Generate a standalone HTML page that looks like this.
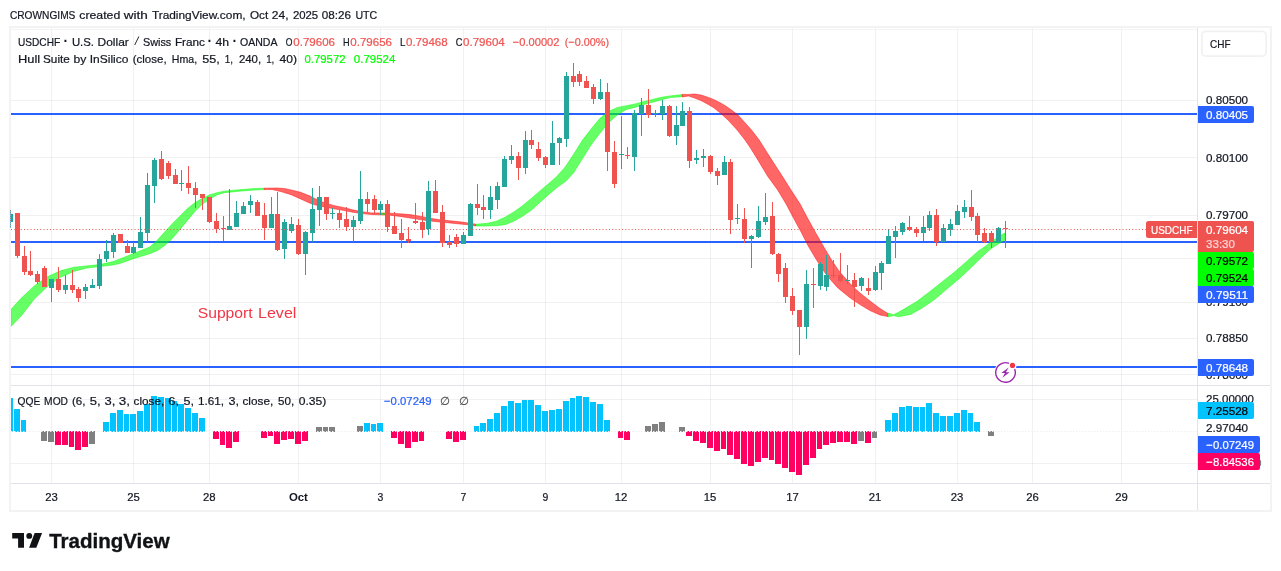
<!DOCTYPE html>
<html lang="en"><head><meta charset="utf-8"><title>USDCHF 4h chart</title>
<style>html,body{margin:0;padding:0;background:#fff;overflow:hidden}svg{display:block;font-family:'Liberation Sans', 'DejaVu Sans', sans-serif}#w{will-change:transform;width:1281px;height:571px}</style></head><body><div id="w">
<svg width="1281" height="571" viewBox="0 0 1281 571">
<rect width="1281" height="571" fill="#ffffff"/>
<text x="9.90" y="18.70" font-size="11.8" fill="#131722" textLength="65.50" lengthAdjust="spacingAndGlyphs" stroke="#131722" stroke-width="0.22">CROWNGIMS</text>
<text x="79.30" y="18.70" font-size="11.8" fill="#131722" textLength="41.00" lengthAdjust="spacingAndGlyphs" stroke="#131722" stroke-width="0.22">created</text>
<text x="123.80" y="18.70" font-size="11.8" fill="#131722" textLength="24.10" lengthAdjust="spacingAndGlyphs" stroke="#131722" stroke-width="0.22">with</text>
<text x="151.90" y="18.70" font-size="11.8" fill="#131722" textLength="93.70" lengthAdjust="spacingAndGlyphs" stroke="#131722" stroke-width="0.22">TradingView.com,</text>
<text x="250.00" y="18.70" font-size="11.8" fill="#131722" textLength="18.20" lengthAdjust="spacingAndGlyphs" stroke="#131722" stroke-width="0.22">Oct</text>
<text x="271.80" y="18.70" font-size="11.8" fill="#131722" textLength="16.70" lengthAdjust="spacingAndGlyphs" stroke="#131722" stroke-width="0.22">24,</text>
<text x="292.90" y="18.70" font-size="11.8" fill="#131722" textLength="25.30" lengthAdjust="spacingAndGlyphs" stroke="#131722" stroke-width="0.22">2025</text>
<text x="321.80" y="18.70" font-size="11.8" fill="#131722" textLength="29.20" lengthAdjust="spacingAndGlyphs" stroke="#131722" stroke-width="0.22">08:26</text>
<text x="355.40" y="18.70" font-size="11.8" fill="#131722" textLength="21.80" lengthAdjust="spacingAndGlyphs" stroke="#131722" stroke-width="0.22">UTC</text>
<g shape-rendering="crispEdges">
<rect x="51" y="28" width="1" height="455" fill="#000" fill-opacity="0.055"/>
<rect x="133" y="28" width="1" height="455" fill="#000" fill-opacity="0.055"/>
<rect x="209" y="28" width="1" height="455" fill="#000" fill-opacity="0.055"/>
<rect x="298" y="28" width="1" height="455" fill="#000" fill-opacity="0.055"/>
<rect x="380" y="28" width="1" height="455" fill="#000" fill-opacity="0.055"/>
<rect x="463" y="28" width="1" height="455" fill="#000" fill-opacity="0.055"/>
<rect x="545" y="28" width="1" height="455" fill="#000" fill-opacity="0.055"/>
<rect x="621" y="28" width="1" height="455" fill="#000" fill-opacity="0.055"/>
<rect x="710" y="28" width="1" height="455" fill="#000" fill-opacity="0.055"/>
<rect x="792" y="28" width="1" height="455" fill="#000" fill-opacity="0.055"/>
<rect x="875" y="28" width="1" height="455" fill="#000" fill-opacity="0.055"/>
<rect x="957" y="28" width="1" height="455" fill="#000" fill-opacity="0.055"/>
<rect x="1032" y="28" width="1" height="455" fill="#000" fill-opacity="0.055"/>
<rect x="1121" y="28" width="1" height="455" fill="#000" fill-opacity="0.055"/>
<rect x="11" y="100" width="1186" height="1" fill="#000" fill-opacity="0.055"/>
<rect x="11" y="157" width="1186" height="1" fill="#000" fill-opacity="0.055"/>
<rect x="11" y="215" width="1186" height="1" fill="#000" fill-opacity="0.055"/>
<rect x="11" y="258" width="1186" height="1" fill="#000" fill-opacity="0.055"/>
<rect x="11" y="302" width="1186" height="1" fill="#000" fill-opacity="0.055"/>
<rect x="11" y="338" width="1186" height="1" fill="#000" fill-opacity="0.055"/>
<rect x="11" y="374" width="1186" height="1" fill="#000" fill-opacity="0.055"/>
<rect x="11" y="399" width="1186" height="1" fill="#000" fill-opacity="0.055"/>
<rect x="11" y="463" width="1186" height="1" fill="#000" fill-opacity="0.055"/>
<rect x="9" y="26" width="1263" height="2" fill="#f3f3f3"/>
<rect x="9" y="510" width="1263" height="2" fill="#f3f3f3"/>
<rect x="9" y="26" width="2" height="486" fill="#f3f3f3"/>
<rect x="1270" y="26" width="2" height="486" fill="#f3f3f3"/>
<rect x="11" y="29" width="1186" height="1" fill="#f4f4f4"/>
<rect x="1197" y="28" width="1" height="482" fill="#e0e3eb"/>
<rect x="11" y="483" width="1259" height="1" fill="#e0e3eb"/>
<rect x="11" y="385" width="1259" height="1" fill="#e0e3eb"/>
</g>
<g shape-rendering="crispEdges">
<rect x="11" y="113" width="1186" height="2" fill="#2962ff"/>
<rect x="11" y="241" width="1186" height="2" fill="#2962ff"/>
<rect x="11" y="366" width="1186" height="2" fill="#2962ff"/>
</g>
<g fill-opacity="0.6" stroke-opacity="0.45" stroke-width="1">
<polygon points="10.9,309.5 21.1,298.3 34.3,285.9 47.4,276.7 60.5,270.8 73.7,267.2 86.8,265.9 100.0,264.5 113.1,261.6 120.0,258.9 134.9,252.9 149.8,247.0 157.2,240.3 164.7,232.1 172.1,223.9 179.5,216.5 187.0,209.0 194.4,203.1 201.9,198.6 209.3,194.9 216.8,192.7 224.2,191.2 239.1,189.7 254.0,188.6 264.1,188.2 264.1,189.6 254.0,190.1 239.1,191.2 224.2,192.7 216.8,194.9 209.3,199.4 201.9,204.6 194.4,212.0 187.0,220.9 179.5,229.9 172.1,238.8 164.7,245.5 157.2,250.7 149.8,253.7 134.9,258.2 120.0,263.4 113.1,264.9 100.0,266.6 86.8,268.1 73.7,271.4 60.5,277.3 47.4,286.5 34.3,299.0 21.1,316.1 10.9,326.6" fill="rgb(0,255,0)" stroke="rgb(0,255,0)"/>
<polygon points="264.1,188.2 276.9,188.0 284.5,188.5 291.1,189.9 300.6,192.3 310.0,196.1 314.7,198.4 324.2,202.7 333.7,205.5 343.1,207.4 352.6,209.8 362.0,211.7 371.5,212.9 380.0,212.9 390.0,213.2 400.0,213.8 410.0,214.6 420.0,216.2 430.0,218.2 440.0,219.8 450.0,220.8 460.0,221.8 470.0,223.2 476.0,224.2 476.0,226.0 470.0,225.0 460.0,224.0 450.0,223.0 440.0,222.0 430.0,221.0 420.0,219.6 410.0,218.0 400.0,216.4 390.0,215.2 380.0,214.8 371.5,214.5 362.0,213.6 352.6,212.2 343.1,210.3 333.7,208.8 324.2,206.9 314.7,204.8 310.0,203.2 300.6,198.9 291.1,194.7 281.6,191.8 272.2,189.5 264.1,189.6" fill="rgb(255,0,0)" stroke="rgb(255,0,0)"/>
<polygon points="476.0,224.2 487.5,223.3 496.3,221.2 505.0,217.2 513.8,212.0 522.5,205.8 531.3,198.4 540.0,190.9 548.8,183.5 556.3,176.9 565.0,167.3 573.8,154.1 582.5,140.1 591.3,128.8 600.0,118.3 608.8,111.3 617.5,107.4 626.3,105.7 635.0,103.9 643.8,101.6 652.5,99.4 661.3,97.3 670.0,95.9 682.3,94.6 682.3,96.7 670.0,97.6 661.3,99.9 652.5,102.2 643.8,104.6 635.0,107.4 626.3,109.5 617.5,114.8 608.8,122.6 600.0,133.1 591.3,144.5 582.5,158.5 573.8,172.5 566.0,181.0 557.6,187.0 548.8,194.4 540.0,202.3 531.3,210.2 522.5,216.3 513.8,221.2 505.0,224.7 496.3,225.7 487.5,226.0 476.0,226.0" fill="rgb(0,255,0)" stroke="rgb(0,255,0)"/>
<polygon points="682.2,94.4 688.5,94.4 694.7,94.0 701.0,95.0 707.0,96.9 713.5,99.4 719.7,102.5 726.0,106.2 732.2,110.6 738.5,115.6 742.5,120.0 751.5,130.0 759.2,140.0 764.2,148.0 773.1,162.0 782.2,176.0 791.0,190.0 800.1,204.0 807.5,218.0 815.5,232.5 824.4,248.0 832.5,261.5 838.7,270.5 842.9,275.5 852.3,286.0 860.0,293.0 870.0,301.0 880.0,308.5 888.0,313.5 888.0,316.6 880.0,315.0 870.0,310.6 860.0,304.6 850.0,297.8 840.0,289.7 837.2,287.2 827.7,276.6 823.0,270.0 816.9,260.5 808.5,246.5 801.1,232.0 793.5,218.0 786.1,204.0 777.7,190.0 767.5,176.0 759.1,162.0 750.5,148.0 745.0,140.0 737.2,130.0 728.0,120.0 719.7,112.5 713.5,107.5 707.0,103.8 701.0,100.6 694.7,98.1 688.5,96.0 682.2,96.9" fill="rgb(255,0,0)" stroke="rgb(255,0,0)"/>
<polygon points="888.3,313.1 893.5,314.7 898.0,312.6 904.5,308.8 916.8,301.5 929.0,292.3 941.3,282.5 953.6,272.7 965.8,262.3 978.1,251.2 985.0,246.5 990.0,242.5 995.0,239.0 1000.0,235.5 1005.0,233.0 1005.0,240.0 1000.0,243.0 995.0,246.0 990.0,249.5 985.0,254.0 980.0,258.8 971.9,266.8 959.7,278.3 947.4,288.6 935.2,299.0 922.9,307.6 910.6,314.4 898.4,316.8 893.5,315.6 888.3,316.8" fill="rgb(0,255,0)" stroke="rgb(0,255,0)"/>
<polygon points="381,212.9 385,213 385,215 381,214.8" fill="rgb(0,255,0)" stroke="none"/>
</g>
<rect x="0" y="290" width="9" height="50" fill="#ffffff"/>
<rect x="9" y="290" width="2" height="50" fill="#f3f3f3"/>
<g shape-rendering="crispEdges">
<rect x="10" y="210" width="1" height="18" fill="#62c9f2"/>
<rect x="10" y="210" width="1" height="1" fill="#8a8a8a"/>
<rect x="10" y="212" width="1" height="1" fill="#8a8a8a"/>
<rect x="10" y="214" width="1" height="1" fill="#8a8a8a"/>
<rect x="10" y="216" width="1" height="1" fill="#8a8a8a"/>
<rect x="10" y="218" width="1" height="1" fill="#8a8a8a"/>
<rect x="10" y="220" width="1" height="1" fill="#8a8a8a"/>
<rect x="10" y="222" width="1" height="1" fill="#8a8a8a"/>
<rect x="10" y="224" width="1" height="1" fill="#8a8a8a"/>
<rect x="10" y="226" width="1" height="1" fill="#8a8a8a"/>
<rect x="11" y="214" width="2" height="8" fill="#26a69a"/>
<rect x="17" y="213" width="1" height="45" fill="#ef5350"/>
<rect x="15" y="213" width="5" height="43" fill="#ef5350"/>
<rect x="24" y="246" width="1" height="29" fill="#ef5350"/>
<rect x="22" y="256" width="5" height="16" fill="#ef5350"/>
<rect x="30" y="251" width="1" height="25" fill="#ef5350"/>
<rect x="28" y="271" width="5" height="4" fill="#ef5350"/>
<rect x="37" y="271" width="1" height="13" fill="#ef5350"/>
<rect x="35" y="274" width="5" height="8" fill="#ef5350"/>
<rect x="44" y="266" width="1" height="21" fill="#ef5350"/>
<rect x="42" y="268" width="5" height="19" fill="#ef5350"/>
<rect x="51" y="279" width="1" height="23" fill="#26a69a"/>
<rect x="49" y="279" width="5" height="9" fill="#26a69a"/>
<rect x="58" y="267" width="1" height="25" fill="#ef5350"/>
<rect x="56" y="279" width="5" height="11" fill="#ef5350"/>
<rect x="65" y="275" width="1" height="19" fill="#26a69a"/>
<rect x="63" y="285" width="5" height="5" fill="#26a69a"/>
<rect x="72" y="270" width="1" height="23" fill="#ef5350"/>
<rect x="70" y="285" width="5" height="5" fill="#ef5350"/>
<rect x="78" y="287" width="1" height="15" fill="#ef5350"/>
<rect x="76" y="289" width="5" height="9" fill="#ef5350"/>
<rect x="85" y="284" width="1" height="15" fill="#26a69a"/>
<rect x="83" y="287" width="5" height="4" fill="#26a69a"/>
<rect x="92" y="279" width="1" height="9" fill="#26a69a"/>
<rect x="90" y="285" width="5" height="3" fill="#26a69a"/>
<rect x="99" y="254" width="1" height="35" fill="#26a69a"/>
<rect x="97" y="259" width="5" height="27" fill="#26a69a"/>
<rect x="106" y="240" width="1" height="22" fill="#26a69a"/>
<rect x="104" y="251" width="5" height="8" fill="#26a69a"/>
<rect x="113" y="233" width="1" height="25" fill="#26a69a"/>
<rect x="111" y="235" width="5" height="17" fill="#26a69a"/>
<rect x="120" y="234" width="1" height="9" fill="#ef5350"/>
<rect x="118" y="234" width="5" height="9" fill="#ef5350"/>
<rect x="127" y="240" width="1" height="13" fill="#ef5350"/>
<rect x="125" y="246" width="5" height="7" fill="#ef5350"/>
<rect x="133" y="242" width="1" height="12" fill="#26a69a"/>
<rect x="131" y="247" width="5" height="6" fill="#26a69a"/>
<rect x="140" y="217" width="1" height="31" fill="#26a69a"/>
<rect x="138" y="232" width="5" height="16" fill="#26a69a"/>
<rect x="147" y="173" width="1" height="69" fill="#26a69a"/>
<rect x="145" y="185" width="5" height="48" fill="#26a69a"/>
<rect x="154" y="158" width="1" height="45" fill="#26a69a"/>
<rect x="152" y="160" width="5" height="26" fill="#26a69a"/>
<rect x="161" y="151" width="1" height="29" fill="#ef5350"/>
<rect x="159" y="159" width="5" height="20" fill="#ef5350"/>
<rect x="168" y="161" width="1" height="18" fill="#ef5350"/>
<rect x="166" y="163" width="5" height="13" fill="#ef5350"/>
<rect x="175" y="169" width="1" height="15" fill="#ef5350"/>
<rect x="173" y="175" width="5" height="9" fill="#ef5350"/>
<rect x="181" y="170" width="1" height="21" fill="#26a69a"/>
<rect x="179" y="183" width="5" height="1" fill="#26a69a"/>
<rect x="188" y="166" width="1" height="28" fill="#ef5350"/>
<rect x="186" y="183" width="5" height="5" fill="#ef5350"/>
<rect x="195" y="182" width="1" height="26" fill="#ef5350"/>
<rect x="193" y="188" width="5" height="7" fill="#ef5350"/>
<rect x="202" y="194" width="1" height="16" fill="#ef5350"/>
<rect x="200" y="194" width="5" height="4" fill="#ef5350"/>
<rect x="209" y="197" width="1" height="26" fill="#ef5350"/>
<rect x="207" y="197" width="5" height="25" fill="#ef5350"/>
<rect x="216" y="213" width="1" height="20" fill="#ef5350"/>
<rect x="214" y="221" width="5" height="8" fill="#ef5350"/>
<rect x="223" y="216" width="1" height="25" fill="#ef5350"/>
<rect x="221" y="228" width="5" height="1" fill="#ef5350"/>
<rect x="229" y="189" width="1" height="41" fill="#26a69a"/>
<rect x="227" y="226" width="5" height="4" fill="#26a69a"/>
<rect x="236" y="201" width="1" height="26" fill="#26a69a"/>
<rect x="234" y="213" width="5" height="14" fill="#26a69a"/>
<rect x="243" y="202" width="1" height="12" fill="#26a69a"/>
<rect x="241" y="206" width="5" height="8" fill="#26a69a"/>
<rect x="250" y="195" width="1" height="18" fill="#26a69a"/>
<rect x="248" y="201" width="5" height="4" fill="#26a69a"/>
<rect x="257" y="200" width="1" height="16" fill="#ef5350"/>
<rect x="255" y="202" width="5" height="14" fill="#ef5350"/>
<rect x="264" y="203" width="1" height="37" fill="#ef5350"/>
<rect x="262" y="215" width="5" height="13" fill="#ef5350"/>
<rect x="271" y="197" width="1" height="31" fill="#26a69a"/>
<rect x="269" y="214" width="5" height="14" fill="#26a69a"/>
<rect x="277" y="192" width="1" height="59" fill="#ef5350"/>
<rect x="275" y="214" width="5" height="36" fill="#ef5350"/>
<rect x="284" y="219" width="1" height="40" fill="#26a69a"/>
<rect x="282" y="222" width="5" height="27" fill="#26a69a"/>
<rect x="291" y="217" width="1" height="16" fill="#26a69a"/>
<rect x="289" y="224" width="5" height="7" fill="#26a69a"/>
<rect x="298" y="219" width="1" height="36" fill="#ef5350"/>
<rect x="296" y="225" width="5" height="29" fill="#ef5350"/>
<rect x="305" y="231" width="1" height="44" fill="#26a69a"/>
<rect x="303" y="232" width="5" height="22" fill="#26a69a"/>
<rect x="312" y="188" width="1" height="54" fill="#26a69a"/>
<rect x="310" y="209" width="5" height="24" fill="#26a69a"/>
<rect x="319" y="186" width="1" height="40" fill="#26a69a"/>
<rect x="317" y="197" width="5" height="13" fill="#26a69a"/>
<rect x="326" y="197" width="1" height="23" fill="#ef5350"/>
<rect x="324" y="197" width="5" height="17" fill="#ef5350"/>
<rect x="332" y="208" width="1" height="11" fill="#26a69a"/>
<rect x="330" y="213" width="5" height="1" fill="#26a69a"/>
<rect x="339" y="210" width="1" height="18" fill="#ef5350"/>
<rect x="337" y="213" width="5" height="7" fill="#ef5350"/>
<rect x="346" y="207" width="1" height="24" fill="#ef5350"/>
<rect x="344" y="219" width="5" height="8" fill="#ef5350"/>
<rect x="353" y="216" width="1" height="26" fill="#26a69a"/>
<rect x="351" y="220" width="5" height="7" fill="#26a69a"/>
<rect x="360" y="171" width="1" height="53" fill="#26a69a"/>
<rect x="358" y="199" width="5" height="22" fill="#26a69a"/>
<rect x="367" y="192" width="1" height="20" fill="#ef5350"/>
<rect x="365" y="199" width="5" height="5" fill="#ef5350"/>
<rect x="374" y="195" width="1" height="19" fill="#ef5350"/>
<rect x="372" y="199" width="5" height="11" fill="#ef5350"/>
<rect x="380" y="201" width="1" height="14" fill="#26a69a"/>
<rect x="378" y="204" width="5" height="6" fill="#26a69a"/>
<rect x="387" y="200" width="1" height="32" fill="#ef5350"/>
<rect x="385" y="204" width="5" height="23" fill="#ef5350"/>
<rect x="394" y="212" width="1" height="22" fill="#ef5350"/>
<rect x="392" y="226" width="5" height="8" fill="#ef5350"/>
<rect x="401" y="219" width="1" height="29" fill="#ef5350"/>
<rect x="399" y="233" width="5" height="7" fill="#ef5350"/>
<rect x="408" y="227" width="1" height="16" fill="#ef5350"/>
<rect x="406" y="239" width="5" height="2" fill="#ef5350"/>
<rect x="415" y="203" width="1" height="21" fill="#ef5350"/>
<rect x="413" y="221" width="5" height="2" fill="#ef5350"/>
<rect x="422" y="212" width="1" height="26" fill="#ef5350"/>
<rect x="420" y="222" width="5" height="8" fill="#ef5350"/>
<rect x="428" y="181" width="1" height="54" fill="#26a69a"/>
<rect x="426" y="191" width="5" height="38" fill="#26a69a"/>
<rect x="435" y="180" width="1" height="33" fill="#ef5350"/>
<rect x="433" y="191" width="5" height="22" fill="#ef5350"/>
<rect x="442" y="205" width="1" height="42" fill="#ef5350"/>
<rect x="440" y="212" width="5" height="31" fill="#ef5350"/>
<rect x="449" y="235" width="1" height="13" fill="#ef5350"/>
<rect x="447" y="242" width="5" height="3" fill="#ef5350"/>
<rect x="456" y="234" width="1" height="13" fill="#ef5350"/>
<rect x="454" y="237" width="5" height="7" fill="#ef5350"/>
<rect x="463" y="232" width="1" height="12" fill="#26a69a"/>
<rect x="461" y="235" width="5" height="9" fill="#26a69a"/>
<rect x="470" y="203" width="1" height="33" fill="#26a69a"/>
<rect x="468" y="204" width="5" height="32" fill="#26a69a"/>
<rect x="477" y="184" width="1" height="31" fill="#ef5350"/>
<rect x="475" y="204" width="5" height="4" fill="#ef5350"/>
<rect x="483" y="195" width="1" height="24" fill="#ef5350"/>
<rect x="481" y="207" width="5" height="3" fill="#ef5350"/>
<rect x="490" y="186" width="1" height="33" fill="#26a69a"/>
<rect x="488" y="197" width="5" height="13" fill="#26a69a"/>
<rect x="497" y="182" width="1" height="27" fill="#26a69a"/>
<rect x="495" y="186" width="5" height="14" fill="#26a69a"/>
<rect x="504" y="156" width="1" height="31" fill="#26a69a"/>
<rect x="502" y="159" width="5" height="28" fill="#26a69a"/>
<rect x="511" y="145" width="1" height="19" fill="#26a69a"/>
<rect x="509" y="156" width="5" height="4" fill="#26a69a"/>
<rect x="518" y="152" width="1" height="28" fill="#ef5350"/>
<rect x="516" y="156" width="5" height="12" fill="#ef5350"/>
<rect x="525" y="131" width="1" height="43" fill="#26a69a"/>
<rect x="523" y="140" width="5" height="28" fill="#26a69a"/>
<rect x="531" y="130" width="1" height="19" fill="#ef5350"/>
<rect x="529" y="140" width="5" height="5" fill="#ef5350"/>
<rect x="538" y="142" width="1" height="19" fill="#ef5350"/>
<rect x="536" y="149" width="5" height="9" fill="#ef5350"/>
<rect x="545" y="156" width="1" height="12" fill="#ef5350"/>
<rect x="543" y="157" width="5" height="8" fill="#ef5350"/>
<rect x="552" y="121" width="1" height="44" fill="#26a69a"/>
<rect x="550" y="143" width="5" height="22" fill="#26a69a"/>
<rect x="559" y="137" width="1" height="28" fill="#26a69a"/>
<rect x="557" y="138" width="5" height="5" fill="#26a69a"/>
<rect x="566" y="72" width="1" height="75" fill="#26a69a"/>
<rect x="564" y="76" width="5" height="63" fill="#26a69a"/>
<rect x="573" y="63" width="1" height="24" fill="#ef5350"/>
<rect x="571" y="76" width="5" height="6" fill="#ef5350"/>
<rect x="579" y="71" width="1" height="15" fill="#ef5350"/>
<rect x="577" y="74" width="5" height="8" fill="#ef5350"/>
<rect x="586" y="76" width="1" height="12" fill="#ef5350"/>
<rect x="584" y="81" width="5" height="7" fill="#ef5350"/>
<rect x="593" y="84" width="1" height="20" fill="#ef5350"/>
<rect x="591" y="87" width="5" height="12" fill="#ef5350"/>
<rect x="600" y="79" width="1" height="21" fill="#26a69a"/>
<rect x="598" y="92" width="5" height="7" fill="#26a69a"/>
<rect x="607" y="83" width="1" height="88" fill="#ef5350"/>
<rect x="605" y="92" width="5" height="60" fill="#ef5350"/>
<rect x="614" y="141" width="1" height="47" fill="#ef5350"/>
<rect x="612" y="152" width="5" height="32" fill="#ef5350"/>
<rect x="621" y="116" width="1" height="53" fill="#26a69a"/>
<rect x="619" y="154" width="5" height="1" fill="#26a69a"/>
<rect x="627" y="147" width="1" height="12" fill="#ef5350"/>
<rect x="625" y="155" width="5" height="1" fill="#ef5350"/>
<rect x="634" y="110" width="1" height="61" fill="#26a69a"/>
<rect x="632" y="113" width="5" height="44" fill="#26a69a"/>
<rect x="641" y="98" width="1" height="38" fill="#26a69a"/>
<rect x="639" y="105" width="5" height="9" fill="#26a69a"/>
<rect x="648" y="89" width="1" height="29" fill="#ef5350"/>
<rect x="646" y="105" width="5" height="10" fill="#ef5350"/>
<rect x="655" y="110" width="1" height="7" fill="#26a69a"/>
<rect x="653" y="113" width="5" height="1" fill="#26a69a"/>
<rect x="662" y="100" width="1" height="20" fill="#26a69a"/>
<rect x="660" y="106" width="5" height="8" fill="#26a69a"/>
<rect x="669" y="105" width="1" height="32" fill="#ef5350"/>
<rect x="667" y="106" width="5" height="30" fill="#ef5350"/>
<rect x="676" y="106" width="1" height="39" fill="#26a69a"/>
<rect x="674" y="125" width="5" height="11" fill="#26a69a"/>
<rect x="682" y="102" width="1" height="24" fill="#26a69a"/>
<rect x="680" y="111" width="5" height="15" fill="#26a69a"/>
<rect x="689" y="107" width="1" height="61" fill="#ef5350"/>
<rect x="687" y="111" width="5" height="50" fill="#ef5350"/>
<rect x="696" y="150" width="1" height="14" fill="#26a69a"/>
<rect x="694" y="158" width="5" height="2" fill="#26a69a"/>
<rect x="703" y="149" width="1" height="18" fill="#26a69a"/>
<rect x="701" y="156" width="5" height="2" fill="#26a69a"/>
<rect x="710" y="155" width="1" height="19" fill="#ef5350"/>
<rect x="708" y="156" width="5" height="16" fill="#ef5350"/>
<rect x="717" y="168" width="1" height="17" fill="#ef5350"/>
<rect x="715" y="171" width="5" height="5" fill="#ef5350"/>
<rect x="724" y="156" width="1" height="19" fill="#26a69a"/>
<rect x="722" y="162" width="5" height="13" fill="#26a69a"/>
<rect x="730" y="159" width="1" height="75" fill="#ef5350"/>
<rect x="728" y="162" width="5" height="58" fill="#ef5350"/>
<rect x="737" y="204" width="1" height="20" fill="#26a69a"/>
<rect x="735" y="218" width="5" height="1" fill="#26a69a"/>
<rect x="744" y="208" width="1" height="35" fill="#ef5350"/>
<rect x="742" y="219" width="5" height="20" fill="#ef5350"/>
<rect x="751" y="235" width="1" height="33" fill="#26a69a"/>
<rect x="749" y="236" width="5" height="3" fill="#26a69a"/>
<rect x="758" y="206" width="1" height="32" fill="#26a69a"/>
<rect x="756" y="221" width="5" height="16" fill="#26a69a"/>
<rect x="765" y="193" width="1" height="32" fill="#26a69a"/>
<rect x="763" y="217" width="5" height="5" fill="#26a69a"/>
<rect x="772" y="202" width="1" height="53" fill="#ef5350"/>
<rect x="770" y="216" width="5" height="38" fill="#ef5350"/>
<rect x="778" y="253" width="1" height="29" fill="#ef5350"/>
<rect x="776" y="254" width="5" height="20" fill="#ef5350"/>
<rect x="785" y="263" width="1" height="40" fill="#ef5350"/>
<rect x="783" y="268" width="5" height="29" fill="#ef5350"/>
<rect x="792" y="288" width="1" height="27" fill="#ef5350"/>
<rect x="790" y="296" width="5" height="15" fill="#ef5350"/>
<rect x="799" y="310" width="1" height="45" fill="#ef5350"/>
<rect x="797" y="310" width="5" height="17" fill="#ef5350"/>
<rect x="806" y="270" width="1" height="69" fill="#26a69a"/>
<rect x="804" y="284" width="5" height="43" fill="#26a69a"/>
<rect x="813" y="268" width="1" height="40" fill="#ef5350"/>
<rect x="811" y="284" width="5" height="1" fill="#ef5350"/>
<rect x="820" y="262" width="1" height="28" fill="#26a69a"/>
<rect x="818" y="264" width="5" height="22" fill="#26a69a"/>
<rect x="826" y="255" width="1" height="36" fill="#26a69a"/>
<rect x="824" y="275" width="5" height="12" fill="#26a69a"/>
<rect x="833" y="260" width="1" height="18" fill="#ef5350"/>
<rect x="831" y="275" width="5" height="1" fill="#ef5350"/>
<rect x="840" y="253" width="1" height="29" fill="#ef5350"/>
<rect x="838" y="275" width="5" height="6" fill="#ef5350"/>
<rect x="847" y="265" width="1" height="19" fill="#26a69a"/>
<rect x="845" y="280" width="5" height="1" fill="#26a69a"/>
<rect x="854" y="273" width="1" height="34" fill="#ef5350"/>
<rect x="852" y="280" width="5" height="7" fill="#ef5350"/>
<rect x="861" y="277" width="1" height="14" fill="#26a69a"/>
<rect x="859" y="278" width="5" height="8" fill="#26a69a"/>
<rect x="868" y="278" width="1" height="17" fill="#ef5350"/>
<rect x="866" y="288" width="5" height="3" fill="#ef5350"/>
<rect x="875" y="266" width="1" height="25" fill="#26a69a"/>
<rect x="873" y="272" width="5" height="18" fill="#26a69a"/>
<rect x="881" y="261" width="1" height="29" fill="#26a69a"/>
<rect x="879" y="263" width="5" height="10" fill="#26a69a"/>
<rect x="888" y="229" width="1" height="35" fill="#26a69a"/>
<rect x="886" y="236" width="5" height="28" fill="#26a69a"/>
<rect x="895" y="226" width="1" height="32" fill="#26a69a"/>
<rect x="893" y="231" width="5" height="6" fill="#26a69a"/>
<rect x="902" y="222" width="1" height="13" fill="#26a69a"/>
<rect x="900" y="223" width="5" height="9" fill="#26a69a"/>
<rect x="909" y="216" width="1" height="15" fill="#ef5350"/>
<rect x="907" y="227" width="5" height="3" fill="#ef5350"/>
<rect x="916" y="227" width="1" height="10" fill="#ef5350"/>
<rect x="914" y="229" width="5" height="4" fill="#ef5350"/>
<rect x="923" y="216" width="1" height="25" fill="#26a69a"/>
<rect x="921" y="227" width="5" height="6" fill="#26a69a"/>
<rect x="929" y="211" width="1" height="20" fill="#26a69a"/>
<rect x="927" y="215" width="5" height="13" fill="#26a69a"/>
<rect x="936" y="209" width="1" height="37" fill="#ef5350"/>
<rect x="934" y="215" width="5" height="27" fill="#ef5350"/>
<rect x="943" y="224" width="1" height="18" fill="#26a69a"/>
<rect x="941" y="228" width="5" height="14" fill="#26a69a"/>
<rect x="950" y="219" width="1" height="17" fill="#26a69a"/>
<rect x="948" y="224" width="5" height="6" fill="#26a69a"/>
<rect x="957" y="205" width="1" height="20" fill="#26a69a"/>
<rect x="955" y="211" width="5" height="14" fill="#26a69a"/>
<rect x="964" y="200" width="1" height="18" fill="#26a69a"/>
<rect x="962" y="207" width="5" height="5" fill="#26a69a"/>
<rect x="971" y="190" width="1" height="31" fill="#ef5350"/>
<rect x="969" y="207" width="5" height="10" fill="#ef5350"/>
<rect x="977" y="213" width="1" height="29" fill="#ef5350"/>
<rect x="975" y="216" width="5" height="19" fill="#ef5350"/>
<rect x="984" y="228" width="1" height="15" fill="#ef5350"/>
<rect x="982" y="233" width="5" height="9" fill="#ef5350"/>
<rect x="991" y="231" width="1" height="17" fill="#ef5350"/>
<rect x="989" y="233" width="5" height="9" fill="#ef5350"/>
<rect x="998" y="227" width="1" height="15" fill="#26a69a"/>
<rect x="996" y="228" width="5" height="14" fill="#26a69a"/>
<rect x="1005" y="221" width="1" height="27" fill="#ef5350"/>
<rect x="1003" y="228" width="5" height="1" fill="#ef5350"/>
</g>
<line x1="11" y1="229.5" x2="1146" y2="229.5" stroke="#ef5350" stroke-width="1" stroke-dasharray="1 2.25"/>
<g shape-rendering="crispEdges">
<rect x="11" y="398" width="2" height="34" fill="#00c3ff"/>
<rect x="14" y="409" width="6" height="23" fill="#00c3ff"/>
<rect x="21" y="420" width="5" height="12" fill="#00c3ff"/>
<rect x="41" y="431" width="6" height="10" fill="#808080"/>
<rect x="48" y="431" width="6" height="11" fill="#808080"/>
<rect x="55" y="431" width="6" height="14" fill="#ff0062"/>
<rect x="62" y="431" width="6" height="14" fill="#ff0062"/>
<rect x="69" y="431" width="5" height="16" fill="#ff0062"/>
<rect x="75" y="431" width="6" height="19" fill="#ff0062"/>
<rect x="82" y="431" width="6" height="16" fill="#ff0062"/>
<rect x="89" y="431" width="6" height="13" fill="#808080"/>
<rect x="103" y="422" width="6" height="10" fill="#00c3ff"/>
<rect x="110" y="413" width="6" height="19" fill="#00c3ff"/>
<rect x="117" y="410" width="6" height="22" fill="#00c3ff"/>
<rect x="124" y="414" width="5" height="18" fill="#00c3ff"/>
<rect x="130" y="414" width="6" height="18" fill="#00c3ff"/>
<rect x="137" y="411" width="6" height="21" fill="#00c3ff"/>
<rect x="144" y="404" width="6" height="28" fill="#00c3ff"/>
<rect x="151" y="396" width="6" height="36" fill="#00c3ff"/>
<rect x="158" y="397" width="6" height="35" fill="#00c3ff"/>
<rect x="165" y="398" width="6" height="34" fill="#00c3ff"/>
<rect x="172" y="401" width="5" height="31" fill="#00c3ff"/>
<rect x="178" y="404" width="6" height="28" fill="#00c3ff"/>
<rect x="185" y="408" width="6" height="24" fill="#00c3ff"/>
<rect x="192" y="413" width="6" height="19" fill="#00c3ff"/>
<rect x="199" y="418" width="6" height="14" fill="#00c3ff"/>
<rect x="213" y="431" width="6" height="8" fill="#ff0062"/>
<rect x="220" y="431" width="5" height="14" fill="#ff0062"/>
<rect x="226" y="431" width="6" height="17" fill="#ff0062"/>
<rect x="233" y="431" width="6" height="11" fill="#ff0062"/>
<rect x="261" y="431" width="6" height="7" fill="#ff0062"/>
<rect x="268" y="431" width="5" height="5" fill="#ff0062"/>
<rect x="274" y="431" width="6" height="13" fill="#ff0062"/>
<rect x="281" y="431" width="6" height="9" fill="#ff0062"/>
<rect x="288" y="431" width="6" height="8" fill="#ff0062"/>
<rect x="295" y="431" width="6" height="13" fill="#ff0062"/>
<rect x="302" y="431" width="6" height="10" fill="#ff0062"/>
<rect x="316" y="427" width="6" height="5" fill="#808080"/>
<rect x="323" y="427" width="5" height="5" fill="#808080"/>
<rect x="329" y="427" width="6" height="5" fill="#808080"/>
<rect x="357" y="426" width="6" height="6" fill="#808080"/>
<rect x="364" y="423" width="6" height="9" fill="#00c3ff"/>
<rect x="371" y="424" width="5" height="8" fill="#00c3ff"/>
<rect x="377" y="423" width="6" height="9" fill="#00c3ff"/>
<rect x="391" y="431" width="6" height="7" fill="#ff0062"/>
<rect x="398" y="431" width="6" height="13" fill="#ff0062"/>
<rect x="405" y="431" width="6" height="17" fill="#ff0062"/>
<rect x="412" y="431" width="6" height="11" fill="#ff0062"/>
<rect x="419" y="431" width="5" height="10" fill="#ff0062"/>
<rect x="446" y="431" width="6" height="8" fill="#ff0062"/>
<rect x="453" y="431" width="6" height="11" fill="#ff0062"/>
<rect x="460" y="431" width="6" height="9" fill="#ff0062"/>
<rect x="474" y="426" width="5" height="6" fill="#00c3ff"/>
<rect x="480" y="423" width="6" height="9" fill="#00c3ff"/>
<rect x="487" y="419" width="6" height="13" fill="#00c3ff"/>
<rect x="494" y="413" width="6" height="19" fill="#00c3ff"/>
<rect x="501" y="406" width="6" height="26" fill="#00c3ff"/>
<rect x="508" y="401" width="6" height="31" fill="#00c3ff"/>
<rect x="515" y="403" width="6" height="29" fill="#00c3ff"/>
<rect x="522" y="400" width="5" height="32" fill="#00c3ff"/>
<rect x="528" y="400" width="6" height="32" fill="#00c3ff"/>
<rect x="535" y="405" width="6" height="27" fill="#00c3ff"/>
<rect x="542" y="411" width="6" height="21" fill="#00c3ff"/>
<rect x="549" y="410" width="6" height="22" fill="#00c3ff"/>
<rect x="556" y="409" width="6" height="23" fill="#00c3ff"/>
<rect x="563" y="401" width="6" height="31" fill="#00c3ff"/>
<rect x="570" y="398" width="5" height="34" fill="#00c3ff"/>
<rect x="576" y="396" width="6" height="36" fill="#00c3ff"/>
<rect x="583" y="397" width="6" height="35" fill="#00c3ff"/>
<rect x="590" y="402" width="6" height="30" fill="#00c3ff"/>
<rect x="597" y="404" width="6" height="28" fill="#00c3ff"/>
<rect x="604" y="420" width="6" height="12" fill="#00c3ff"/>
<rect x="618" y="431" width="5" height="7" fill="#ff0062"/>
<rect x="624" y="431" width="6" height="9" fill="#ff0062"/>
<rect x="645" y="426" width="6" height="6" fill="#808080"/>
<rect x="652" y="424" width="6" height="8" fill="#808080"/>
<rect x="659" y="422" width="6" height="10" fill="#808080"/>
<rect x="679" y="427" width="6" height="5" fill="#808080"/>
<rect x="686" y="431" width="6" height="5" fill="#ff0062"/>
<rect x="693" y="431" width="6" height="10" fill="#ff0062"/>
<rect x="700" y="431" width="6" height="12" fill="#ff0062"/>
<rect x="707" y="431" width="6" height="17" fill="#ff0062"/>
<rect x="714" y="431" width="6" height="20" fill="#ff0062"/>
<rect x="721" y="431" width="5" height="18" fill="#ff0062"/>
<rect x="727" y="431" width="6" height="24" fill="#ff0062"/>
<rect x="734" y="431" width="6" height="28" fill="#ff0062"/>
<rect x="741" y="431" width="6" height="33" fill="#ff0062"/>
<rect x="748" y="431" width="6" height="35" fill="#ff0062"/>
<rect x="755" y="431" width="6" height="31" fill="#ff0062"/>
<rect x="762" y="431" width="6" height="27" fill="#ff0062"/>
<rect x="769" y="431" width="5" height="29" fill="#ff0062"/>
<rect x="775" y="431" width="6" height="33" fill="#ff0062"/>
<rect x="782" y="431" width="6" height="37" fill="#ff0062"/>
<rect x="789" y="431" width="6" height="41" fill="#ff0062"/>
<rect x="796" y="431" width="6" height="44" fill="#ff0062"/>
<rect x="803" y="431" width="6" height="34" fill="#ff0062"/>
<rect x="810" y="431" width="6" height="27" fill="#ff0062"/>
<rect x="817" y="431" width="5" height="18" fill="#ff0062"/>
<rect x="823" y="431" width="6" height="14" fill="#ff0062"/>
<rect x="830" y="431" width="6" height="12" fill="#ff0062"/>
<rect x="837" y="431" width="6" height="11" fill="#ff0062"/>
<rect x="844" y="431" width="6" height="11" fill="#ff0062"/>
<rect x="851" y="431" width="6" height="13" fill="#ff0062"/>
<rect x="858" y="431" width="6" height="10" fill="#808080"/>
<rect x="865" y="431" width="6" height="12" fill="#ff0062"/>
<rect x="872" y="431" width="5" height="7" fill="#808080"/>
<rect x="885" y="420" width="6" height="12" fill="#00c3ff"/>
<rect x="892" y="413" width="6" height="19" fill="#00c3ff"/>
<rect x="899" y="407" width="6" height="25" fill="#00c3ff"/>
<rect x="906" y="406" width="6" height="26" fill="#00c3ff"/>
<rect x="913" y="407" width="6" height="25" fill="#00c3ff"/>
<rect x="920" y="407" width="5" height="25" fill="#00c3ff"/>
<rect x="926" y="403" width="6" height="29" fill="#00c3ff"/>
<rect x="933" y="413" width="6" height="19" fill="#00c3ff"/>
<rect x="940" y="416" width="6" height="16" fill="#00c3ff"/>
<rect x="947" y="416" width="6" height="16" fill="#00c3ff"/>
<rect x="954" y="413" width="6" height="19" fill="#00c3ff"/>
<rect x="961" y="410" width="6" height="22" fill="#00c3ff"/>
<rect x="968" y="413" width="5" height="19" fill="#00c3ff"/>
<rect x="974" y="422" width="6" height="10" fill="#00c3ff"/>
<rect x="988" y="431" width="6" height="5" fill="#808080"/>
</g>
<line x1="11" y1="431.5" x2="1197" y2="431.5" stroke="#f0f0f0" stroke-width="1" stroke-dasharray="1.5 1.5"/>
<text x="18.00" y="45.50" font-size="11.8" fill="#131722" textLength="42.10" lengthAdjust="spacingAndGlyphs" stroke="#131722" stroke-width="0.22">USDCHF</text>
<text x="65.80" y="46.30" font-size="13.8" fill="#131722" text-anchor="middle" font-weight="bold">·</text>
<text x="71.90" y="45.50" font-size="11.8" fill="#131722" textLength="22.10" lengthAdjust="spacingAndGlyphs" stroke="#131722" stroke-width="0.22">U.S.</text>
<text x="97.60" y="45.50" font-size="11.8" fill="#131722" textLength="31.20" lengthAdjust="spacingAndGlyphs" stroke="#131722" stroke-width="0.22">Dollar</text>
<text x="136.85" y="45.50" font-size="11.8" fill="#131722" text-anchor="middle" transform="translate(136.85 41.50) skewX(-12) translate(-136.85 -41.50)">/</text>
<text x="142.90" y="45.50" font-size="11.8" fill="#131722" textLength="28.40" lengthAdjust="spacingAndGlyphs" stroke="#131722" stroke-width="0.22">Swiss</text>
<text x="174.90" y="45.50" font-size="11.8" fill="#131722" textLength="30.10" lengthAdjust="spacingAndGlyphs" stroke="#131722" stroke-width="0.22">Franc</text>
<text x="209.90" y="46.30" font-size="13.8" fill="#131722" text-anchor="middle" font-weight="bold">·</text>
<text x="215.50" y="45.50" font-size="11.8" fill="#131722" textLength="13.60" lengthAdjust="spacingAndGlyphs" stroke="#131722" stroke-width="0.22">4h</text>
<text x="234.80" y="46.30" font-size="13.8" fill="#131722" text-anchor="middle" font-weight="bold">·</text>
<text x="240.00" y="45.50" font-size="11.8" fill="#131722" textLength="37.50" lengthAdjust="spacingAndGlyphs" stroke="#131722" stroke-width="0.22">OANDA</text>
<text x="285.80" y="45.50" font-size="11.8" fill="#131722" textLength="6.70" lengthAdjust="spacingAndGlyphs" stroke="#131722" stroke-width="0.22">O</text>
<text x="293.30" y="45.50" font-size="11.8" fill="#ef5350" textLength="41.70" lengthAdjust="spacingAndGlyphs" stroke="#ef5350" stroke-width="0.22">0.79606</text>
<text x="343.00" y="45.50" font-size="11.8" fill="#131722" textLength="6.60" lengthAdjust="spacingAndGlyphs" stroke="#131722" stroke-width="0.22">H</text>
<text x="350.30" y="45.50" font-size="11.8" fill="#ef5350" textLength="41.70" lengthAdjust="spacingAndGlyphs" stroke="#ef5350" stroke-width="0.22">0.79656</text>
<text x="400.00" y="45.50" font-size="11.8" fill="#131722" textLength="5.40" lengthAdjust="spacingAndGlyphs" stroke="#131722" stroke-width="0.22">L</text>
<text x="406.00" y="45.50" font-size="11.8" fill="#ef5350" textLength="41.70" lengthAdjust="spacingAndGlyphs" stroke="#ef5350" stroke-width="0.22">0.79468</text>
<text x="455.70" y="45.50" font-size="11.8" fill="#131722" textLength="6.70" lengthAdjust="spacingAndGlyphs" stroke="#131722" stroke-width="0.22">C</text>
<text x="463.00" y="45.50" font-size="11.8" fill="#ef5350" textLength="41.80" lengthAdjust="spacingAndGlyphs" stroke="#ef5350" stroke-width="0.22">0.79604</text>
<text x="512.70" y="45.50" font-size="11.8" fill="#ef5350" textLength="46.80" lengthAdjust="spacingAndGlyphs" stroke="#ef5350" stroke-width="0.22">−0.00002</text>
<text x="564.80" y="45.50" font-size="11.8" fill="#ef5350" textLength="44.20" lengthAdjust="spacingAndGlyphs" stroke="#ef5350" stroke-width="0.22">(−0.00%)</text>
<text x="18.00" y="62.50" font-size="11.8" fill="#131722" textLength="22.20" lengthAdjust="spacingAndGlyphs" stroke="#131722" stroke-width="0.22">Hull</text>
<text x="43.00" y="62.50" font-size="11.8" fill="#131722" textLength="26.80" lengthAdjust="spacingAndGlyphs" stroke="#131722" stroke-width="0.22">Suite</text>
<text x="73.40" y="62.50" font-size="11.8" fill="#131722" textLength="12.80" lengthAdjust="spacingAndGlyphs" stroke="#131722" stroke-width="0.22">by</text>
<text x="89.80" y="62.50" font-size="11.8" fill="#131722" textLength="38.60" lengthAdjust="spacingAndGlyphs" stroke="#131722" stroke-width="0.22">InSilico</text>
<text x="132.70" y="62.50" font-size="11.8" fill="#131722" textLength="33.90" lengthAdjust="spacingAndGlyphs" stroke="#131722" stroke-width="0.22">(close,</text>
<text x="171.80" y="62.50" font-size="11.8" fill="#131722" textLength="25.30" lengthAdjust="spacingAndGlyphs" stroke="#131722" stroke-width="0.22">Hma,</text>
<text x="202.20" y="62.50" font-size="11.8" fill="#131722" textLength="17.50" lengthAdjust="spacingAndGlyphs" stroke="#131722" stroke-width="0.22">55,</text>
<text x="224.80" y="62.50" font-size="11.8" fill="#131722" textLength="8.20" lengthAdjust="spacingAndGlyphs" stroke="#131722" stroke-width="0.22">1,</text>
<text x="238.90" y="62.50" font-size="11.8" fill="#131722" textLength="22.20" lengthAdjust="spacingAndGlyphs" stroke="#131722" stroke-width="0.22">240,</text>
<text x="266.20" y="62.50" font-size="11.8" fill="#131722" textLength="8.10" lengthAdjust="spacingAndGlyphs" stroke="#131722" stroke-width="0.22">1,</text>
<text x="279.50" y="62.50" font-size="11.8" fill="#131722" textLength="17.50" lengthAdjust="spacingAndGlyphs" stroke="#131722" stroke-width="0.22">40)</text>
<text x="304.40" y="62.50" font-size="11.8" fill="#00ff00" textLength="41.20" lengthAdjust="spacingAndGlyphs" stroke="#00ff00" stroke-width="0.22">0.79572</text>
<text x="353.80" y="62.50" font-size="11.8" fill="#00ff00" textLength="41.60" lengthAdjust="spacingAndGlyphs" stroke="#00ff00" stroke-width="0.22">0.79524</text>
<text x="17.50" y="405.00" font-size="11.8" fill="#131722" textLength="22.70" lengthAdjust="spacingAndGlyphs" stroke="#131722" stroke-width="0.22">QQE</text>
<text x="44.10" y="405.00" font-size="11.8" fill="#131722" textLength="23.90" lengthAdjust="spacingAndGlyphs" stroke="#131722" stroke-width="0.22">MOD</text>
<text x="71.90" y="405.00" font-size="11.8" fill="#131722" textLength="13.50" lengthAdjust="spacingAndGlyphs" stroke="#131722" stroke-width="0.22">(6,</text>
<text x="89.80" y="405.00" font-size="11.8" fill="#131722" textLength="10.90" lengthAdjust="spacingAndGlyphs" stroke="#131722" stroke-width="0.22">5,</text>
<text x="104.60" y="405.00" font-size="11.8" fill="#131722" textLength="10.80" lengthAdjust="spacingAndGlyphs" stroke="#131722" stroke-width="0.22">3,</text>
<text x="118.70" y="405.00" font-size="11.8" fill="#131722" textLength="11.20" lengthAdjust="spacingAndGlyphs" stroke="#131722" stroke-width="0.22">3,</text>
<text x="133.50" y="405.00" font-size="11.8" fill="#131722" textLength="30.80" lengthAdjust="spacingAndGlyphs" stroke="#131722" stroke-width="0.22">close,</text>
<text x="168.30" y="405.00" font-size="11.8" fill="#131722" textLength="10.80" lengthAdjust="spacingAndGlyphs" stroke="#131722" stroke-width="0.22">6,</text>
<text x="183.50" y="405.00" font-size="11.8" fill="#131722" textLength="10.50" lengthAdjust="spacingAndGlyphs" stroke="#131722" stroke-width="0.22">5,</text>
<text x="198.00" y="405.00" font-size="11.8" fill="#131722" textLength="26.10" lengthAdjust="spacingAndGlyphs" stroke="#131722" stroke-width="0.22">1.61,</text>
<text x="228.40" y="405.00" font-size="11.8" fill="#131722" textLength="10.50" lengthAdjust="spacingAndGlyphs" stroke="#131722" stroke-width="0.22">3,</text>
<text x="242.50" y="405.00" font-size="11.8" fill="#131722" textLength="30.70" lengthAdjust="spacingAndGlyphs" stroke="#131722" stroke-width="0.22">close,</text>
<text x="278.10" y="405.00" font-size="11.8" fill="#131722" textLength="16.20" lengthAdjust="spacingAndGlyphs" stroke="#131722" stroke-width="0.22">50,</text>
<text x="298.70" y="405.00" font-size="11.8" fill="#131722" textLength="27.60" lengthAdjust="spacingAndGlyphs" stroke="#131722" stroke-width="0.22">0.35)</text>
<text x="384.00" y="405.00" font-size="11.8" fill="#2962ff" textLength="47.60" lengthAdjust="spacingAndGlyphs" stroke="#2962ff" stroke-width="0.22">−0.07249</text>
<text x="440.00" y="405.00" font-size="11.8" fill="#4a4a4a" textLength="9.60" lengthAdjust="spacingAndGlyphs" stroke="#4a4a4a" stroke-width="0.22">∅</text>
<text x="459.00" y="405.00" font-size="11.8" fill="#4a4a4a" textLength="9.60" lengthAdjust="spacingAndGlyphs" stroke="#4a4a4a" stroke-width="0.22">∅</text>
<text x="197.7" y="317.9" font-size="15" fill="#f23645" textLength="55.0" lengthAdjust="spacingAndGlyphs">Support</text>
<text x="258.0" y="317.9" font-size="15" fill="#f23645" textLength="38.4" lengthAdjust="spacingAndGlyphs">Level</text>
<circle cx="1005.5" cy="372.5" r="11.2" fill="#ffffff"/><circle cx="1012.5" cy="365.4" r="4" fill="#ffffff"/>
<path d="M1014.82 369.47A9.8 9.8 0 1 1 1008.46 363.16" fill="none" stroke="#9c27b0" stroke-width="1.4" stroke-linecap="round"/>
<path d="M1008.6 367.4L1001.3 372.9L1005.0 372.9L1002.4 377.8L1009.6 372.2L1005.9 372.2Z" fill="#9c27b0"/>
<circle cx="1012.5" cy="365.4" r="2.6" fill="#f23645"/>
<rect x="1201.85" y="31.35" width="64.3" height="24.8" rx="4" ry="4" fill="#fff" stroke="#f1f1f1" stroke-width="1.7"/>
<text x="1210.00" y="47.80" font-size="11.8" fill="#131722" textLength="20.50" lengthAdjust="spacingAndGlyphs" stroke="#131722" stroke-width="0.22">CHF</text>
<text x="1206.00" y="103.70" font-size="11.8" fill="#131722" textLength="42.10" lengthAdjust="spacingAndGlyphs" stroke="#131722" stroke-width="0.22">0.80500</text>
<text x="1206.00" y="161.50" font-size="11.8" fill="#131722" textLength="42.10" lengthAdjust="spacingAndGlyphs" stroke="#131722" stroke-width="0.22">0.80100</text>
<text x="1206.00" y="219.10" font-size="11.8" fill="#131722" textLength="42.10" lengthAdjust="spacingAndGlyphs" stroke="#131722" stroke-width="0.22">0.79700</text>
<text x="1206.00" y="306.00" font-size="11.8" fill="#131722" textLength="42.10" lengthAdjust="spacingAndGlyphs" stroke="#131722" stroke-width="0.22">0.79100</text>
<text x="1206.00" y="342.00" font-size="11.8" fill="#131722" textLength="42.10" lengthAdjust="spacingAndGlyphs" stroke="#131722" stroke-width="0.22">0.78850</text>
<text x="1206.00" y="378.50" font-size="11.8" fill="#131722" textLength="42.10" lengthAdjust="spacingAndGlyphs" stroke="#131722" stroke-width="0.22">0.78600</text>
<text x="1206.00" y="402.60" font-size="11.8" fill="#131722" textLength="48.00" lengthAdjust="spacingAndGlyphs" stroke="#131722" stroke-width="0.22">25.00000</text>
<text x="1206.00" y="431.90" font-size="11.8" fill="#131722" textLength="42.10" lengthAdjust="spacingAndGlyphs" stroke="#131722" stroke-width="0.22">2.97040</text>
<path d="M1198 106H1252Q1254 106 1254 108V121Q1254 123 1252 123H1198Z" fill="#2962ff"/>
<text x="1206.00" y="118.80" font-size="11.8" fill="#fff" textLength="42.10" lengthAdjust="spacingAndGlyphs" stroke="#fff" stroke-width="0.22">0.80405</text>
<path d="M1197 221H1148.5Q1146 221 1146 223.5V235.5Q1146 238 1148.5 238H1197Z" fill="#ef5350"/>
<text x="1151.00" y="234.00" font-size="11.8" fill="#fff" textLength="41.50" lengthAdjust="spacingAndGlyphs" stroke="#fff" stroke-width="0.22">USDCHF</text>
<path d="M1198 221H1252Q1254 221 1254 223V250Q1254 252 1252 252H1198Z" fill="#ef5350"/>
<text x="1206.00" y="234.00" font-size="11.8" fill="#fff" textLength="42.10" lengthAdjust="spacingAndGlyphs" stroke="#fff" stroke-width="0.22">0.79604</text>
<text x="1206.00" y="247.80" font-size="11.8" fill="#fbd5d4" textLength="29.00" lengthAdjust="spacingAndGlyphs" stroke="#fbd5d4" stroke-width="0.22">33:30</text>
<path d="M1198 252H1252Q1254 252 1254 254V267Q1254 269 1252 269H1198Z" fill="#00ff00"/>
<text x="1206.00" y="264.80" font-size="11.8" fill="#000" textLength="42.10" lengthAdjust="spacingAndGlyphs" stroke="#000" stroke-width="0.22">0.79572</text>
<path d="M1198 269H1252Q1254 269 1254 271V284Q1254 286 1252 286H1198Z" fill="#00ff00"/>
<text x="1206.00" y="281.90" font-size="11.8" fill="#000" textLength="42.10" lengthAdjust="spacingAndGlyphs" stroke="#000" stroke-width="0.22">0.79524</text>
<path d="M1198 286H1252Q1254 286 1254 288V301Q1254 303 1252 303H1198Z" fill="#2962ff"/>
<text x="1206.00" y="298.90" font-size="11.8" fill="#fff" textLength="42.10" lengthAdjust="spacingAndGlyphs" stroke="#fff" stroke-width="0.22">0.79511</text>
<path d="M1198 359H1252Q1254 359 1254 361V374Q1254 376 1252 376H1198Z" fill="#2962ff"/>
<text x="1206.00" y="371.80" font-size="11.8" fill="#fff" textLength="42.10" lengthAdjust="spacingAndGlyphs" stroke="#fff" stroke-width="0.22">0.78648</text>
<path d="M1198 402H1252Q1254 402 1254 404V417Q1254 419 1252 419H1198Z" fill="#00c3ff"/>
<text x="1206.00" y="414.70" font-size="11.8" fill="#000" textLength="42.10" lengthAdjust="spacingAndGlyphs" stroke="#000" stroke-width="0.22">7.25528</text>
<rect x="1258.5" y="460" width="2.6" height="6" fill="#808080" rx="1.2"/>
<path d="M1198 436H1258Q1260 436 1260 438V451Q1260 453 1258 453H1198Z" fill="#2962ff"/>
<text x="1206.30" y="448.80" font-size="11.8" fill="#fff" textLength="47.70" lengthAdjust="spacingAndGlyphs" stroke="#fff" stroke-width="0.22">−0.07249</text>
<path d="M1198 453H1258Q1260 453 1260 455V468Q1260 470 1258 470H1198Z" fill="#ff0062"/>
<text x="1206.30" y="465.70" font-size="11.8" fill="#fff" textLength="47.70" lengthAdjust="spacingAndGlyphs" stroke="#fff" stroke-width="0.22">−8.84536</text>
<text x="45.20" y="500.80" font-size="11.8" fill="#131722" textLength="12.60" lengthAdjust="spacingAndGlyphs" stroke="#131722" stroke-width="0.22">23</text>
<text x="127.20" y="500.80" font-size="11.8" fill="#131722" textLength="12.60" lengthAdjust="spacingAndGlyphs" stroke="#131722" stroke-width="0.22">25</text>
<text x="202.90" y="500.80" font-size="11.8" fill="#131722" textLength="12.60" lengthAdjust="spacingAndGlyphs" stroke="#131722" stroke-width="0.22">28</text>
<text x="288.90" y="500.80" font-size="11.8" fill="#131722" textLength="19.00" lengthAdjust="spacingAndGlyphs" font-weight="bold">Oct</text>
<text x="377.60" y="500.80" font-size="11.8" fill="#131722" textLength="5.80" lengthAdjust="spacingAndGlyphs" stroke="#131722" stroke-width="0.22">3</text>
<text x="460.60" y="500.80" font-size="11.8" fill="#131722" textLength="5.80" lengthAdjust="spacingAndGlyphs" stroke="#131722" stroke-width="0.22">7</text>
<text x="542.60" y="500.80" font-size="11.8" fill="#131722" textLength="5.80" lengthAdjust="spacingAndGlyphs" stroke="#131722" stroke-width="0.22">9</text>
<text x="614.70" y="500.80" font-size="11.8" fill="#131722" textLength="12.60" lengthAdjust="spacingAndGlyphs" stroke="#131722" stroke-width="0.22">12</text>
<text x="703.70" y="500.80" font-size="11.8" fill="#131722" textLength="12.60" lengthAdjust="spacingAndGlyphs" stroke="#131722" stroke-width="0.22">15</text>
<text x="786.20" y="500.80" font-size="11.8" fill="#131722" textLength="12.60" lengthAdjust="spacingAndGlyphs" stroke="#131722" stroke-width="0.22">17</text>
<text x="868.70" y="500.80" font-size="11.8" fill="#131722" textLength="12.60" lengthAdjust="spacingAndGlyphs" stroke="#131722" stroke-width="0.22">21</text>
<text x="950.70" y="500.80" font-size="11.8" fill="#131722" textLength="12.60" lengthAdjust="spacingAndGlyphs" stroke="#131722" stroke-width="0.22">23</text>
<text x="1026.20" y="500.80" font-size="11.8" fill="#131722" textLength="12.60" lengthAdjust="spacingAndGlyphs" stroke="#131722" stroke-width="0.22">26</text>
<text x="1115.20" y="500.80" font-size="11.8" fill="#131722" textLength="12.60" lengthAdjust="spacingAndGlyphs" stroke="#131722" stroke-width="0.22">29</text>
<g fill="#111216">
<path d="M12.2 533H24V547.7H18.1V538.6H12.2Z"/>
<circle cx="29.25" cy="535.9" r="2.95"/>
<path d="M34.6 533H42.1L36.3 547.7H29.1Z"/>
</g>
<text x="49.20" y="547.70" font-size="20" fill="#111216" textLength="120.40" lengthAdjust="spacingAndGlyphs" font-weight="bold" stroke="#111216" stroke-width="0.35">TradingView</text>
</svg></div></body></html>
